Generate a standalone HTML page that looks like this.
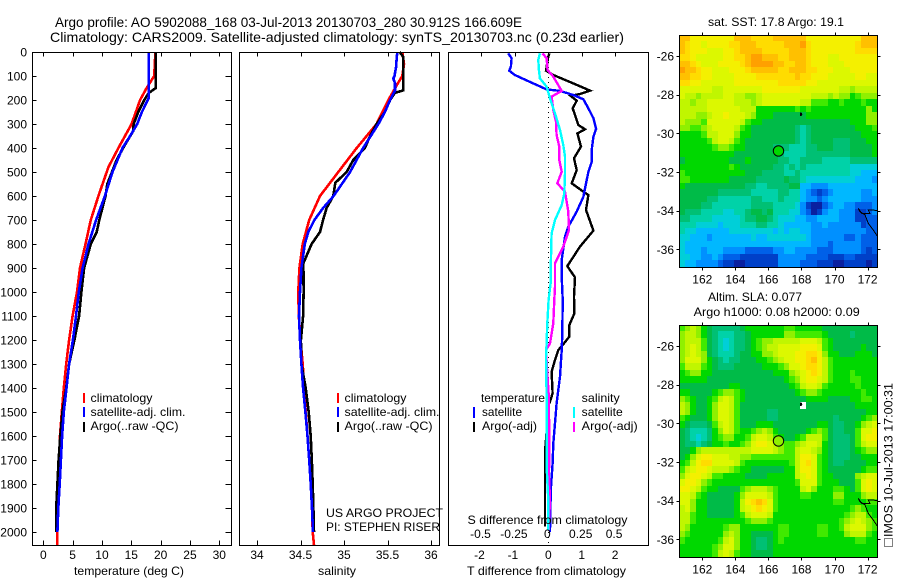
<!DOCTYPE html>
<html>
<head>
<meta charset="utf-8">
<title>Argo profile</title>
<style>
html,body{margin:0;padding:0;background:#fff;}
svg{display:block;}
text{font-family:"Liberation Sans",sans-serif;font-size:12px;fill:#000;}
.t{font-size:14px;}
</style>
</head>
<body>
<svg id="fig" xmlns="http://www.w3.org/2000/svg" width="900" height="580" viewBox="0 0 900 580">
<rect x="0" y="0" width="900" height="580" fill="#fff"/>
<text class="t" x="55" y="27" textLength="467" lengthAdjust="spacingAndGlyphs">Argo profile: AO 5902088_168 03-Jul-2013 20130703_280 30.912S 166.609E</text>
<text class="t" x="50" y="42" textLength="574" lengthAdjust="spacingAndGlyphs">Climatology: CARS2009. Satellite-adjusted climatology: synTS_20130703.nc (0.23d earlier)</text>
<g id="maps"></g>
<g id="panels"></g>

<text x="74" y="575" textLength="110" lengthAdjust="spacingAndGlyphs">temperature (deg C)</text>
<text x="318" y="575" textLength="38" lengthAdjust="spacingAndGlyphs">salinity</text>
<text x="467" y="575" textLength="159" lengthAdjust="spacingAndGlyphs">T difference from climatology</text>
<text x="467.5" y="524" textLength="160" lengthAdjust="spacingAndGlyphs">S difference from climatology</text>

<g>
<rect x="83" y="393" width="2" height="10" fill="#f00"/>
<rect x="83" y="407" width="2" height="10" fill="#00f"/>
<rect x="83" y="422" width="2" height="10" fill="#000"/>
<text x="90.5" y="402" textLength="62" lengthAdjust="spacingAndGlyphs">climatology</text>
<text x="90.5" y="416" textLength="95" lengthAdjust="spacingAndGlyphs">satellite-adj. clim.</text>
<text x="90.5" y="430" textLength="88" lengthAdjust="spacingAndGlyphs">Argo(..raw -QC)</text>
</g>
<g>
<rect x="337" y="393" width="2" height="10" fill="#f00"/>
<rect x="337" y="407" width="2" height="10" fill="#00f"/>
<rect x="337" y="422" width="2" height="10" fill="#000"/>
<text x="344.5" y="402" textLength="62" lengthAdjust="spacingAndGlyphs">climatology</text>
<text x="344.5" y="416" textLength="95" lengthAdjust="spacingAndGlyphs">satellite-adj. clim.</text>
<text x="344.5" y="430" textLength="88" lengthAdjust="spacingAndGlyphs">Argo(..raw -QC)</text>
</g>
<text x="326" y="517" textLength="117" lengthAdjust="spacingAndGlyphs">US ARGO PROJECT</text>
<text x="326" y="531" textLength="114" lengthAdjust="spacingAndGlyphs">PI: STEPHEN RISER</text>

<g>
<rect x="473" y="407" width="2" height="11" fill="#00f"/>
<rect x="473" y="422" width="2" height="10" fill="#000"/>
<rect x="573" y="407" width="2" height="11" fill="#0ff"/>
<rect x="573" y="422" width="2" height="10" fill="#f0f"/>
<text x="481" y="402" textLength="64" lengthAdjust="spacingAndGlyphs">temperature</text>
<text x="482" y="416" textLength="40" lengthAdjust="spacingAndGlyphs">satellite</text>
<text x="482" y="430" textLength="55" lengthAdjust="spacingAndGlyphs">Argo(-adj)</text>
<text x="581.7" y="402" textLength="38" lengthAdjust="spacingAndGlyphs">salinity</text>
<text x="581.7" y="416" textLength="41" lengthAdjust="spacingAndGlyphs">satellite</text>
<text x="581.7" y="430" textLength="56" lengthAdjust="spacingAndGlyphs">Argo(-adj)</text>
</g>

<text x="708" y="26" textLength="136" lengthAdjust="spacingAndGlyphs">sat. SST: 17.8 Argo: 19.1</text>
<text x="708" y="301" textLength="94" lengthAdjust="spacingAndGlyphs">Altim. SLA: 0.077</text>
<text x="693.7" y="316" textLength="166" lengthAdjust="spacingAndGlyphs">Argo h1000: 0.08 h2000: 0.09</text>
<g>
<rect x="884.5" y="538.5" width="8" height="8" fill="none" stroke="#000" stroke-width="1" stroke-dasharray="1 1"/>
<text transform="translate(892.5,537) rotate(-90)" x="0" y="0" textLength="154" lengthAdjust="spacingAndGlyphs">IMOS 10-Jul-2013 17:00:31</text>
</g>
</svg>
<script>
/* ---------- profile data: depth (m) and measured values ---------- */
const tempTicks = [0, 5, 10, 15, 20, 25, 30];
const salTicks = ["34", "34.5", "35", "35.5", "36"];
const diffTTicks = [-2, -1, 0, 1, 2];
const diffSTicks = ["-0.5", "-0.25", "0", "0.25", "0.5"];
const depthTicks = [0, 100, 200, 300, 400, 500, 600, 700, 800, 900, 1000, 1100, 1200, 1300, 1400, 1500, 1600, 1700, 1800, 1900, 2000];
const lonTicks = [162, 164, 166, 168, 170, 172];
const latTicks = [-26, -28, -30, -32, -34, -36];

const climTDepth = [0, 100, 150, 200, 300, 400, 480, 600, 700, 800, 900, 1000, 1100, 1200, 1300, 1400, 1500, 1600, 1700, 1800, 1900, 2000, 2055];
const climTValue = [19.1, 18.9, 17.6, 16.5, 15.05, 12.8, 11.1, 9.4, 8.1, 7.2, 6.25, 5.75, 5.0, 4.4, 3.9, 3.5, 3.15, 2.85, 2.7, 2.5, 2.4, 2.4, 2.35];
const satTDepth = [0, 100, 150, 190, 250, 300, 350, 400, 500, 600, 700, 800, 900, 1000, 1100, 1200, 1300, 1400, 1500, 1600, 1700, 1800, 1900, 2000];
const satTValue = [18.0, 18.0, 18.0, 18.0, 16.8, 16.0, 14.8, 13.5, 11.8, 10.5, 9.0, 7.7, 6.7, 6.05, 5.57, 5.05, 4.4, 3.95, 3.5, 3.2, 3.0, 2.8, 2.55, 2.4];
const argoTDepth = [0, 150, 170, 200, 250, 300, 330, 400, 450, 550, 600, 700, 750, 800, 900, 1000, 1100, 1200, 1300, 1400, 1500, 1600, 1700, 1800, 1900, 2000];
const argoTValue = [19.2, 19.2, 18.0, 17.2, 16.2, 15.4, 15.3, 13.6, 12.5, 10.9, 10.6, 9.55, 9.1, 8.1, 6.95, 6.5, 6.1, 5.3, 4.4, 3.9, 3.25, 2.9, 2.6, 2.4, 2.2, 2.2];

const climSDepth = [0, 50, 100, 130, 200, 300, 400, 500, 600, 700, 800, 900, 1000, 1100, 1200, 1300, 1400, 1500, 1600, 1700, 1800, 1900, 2000, 2055];
const climSValue = [35.67, 35.69, 35.67, 35.62, 35.51, 35.375, 35.146, 34.935, 34.724, 34.6, 34.525, 34.487, 34.475, 34.48, 34.5, 34.525, 34.544, 34.56, 34.58, 34.6, 34.617, 34.632, 34.64, 34.655];
const satSDepth = [0, 30, 60, 100, 110, 130, 160, 200, 250, 300, 400, 500, 600, 650, 700, 750, 800, 900, 1000, 1100, 1200, 1300, 1400, 1500, 1600, 1700, 1800, 1900, 2000];
const satSValue = [35.613, 35.605, 35.6, 35.58, 35.567, 35.586, 35.586, 35.53, 35.47, 35.395, 35.22, 35.07, 34.88, 34.76, 34.66, 34.59, 34.55, 34.51, 34.494, 34.483, 34.494, 34.51, 34.53, 34.556, 34.58, 34.6, 34.617, 34.632, 34.644];
const argoSDepth = [0, 20, 150, 160, 170, 200, 250, 300, 350, 400, 450, 500, 545, 600, 650, 700, 750, 800, 880, 1000, 1100, 1200, 1300, 1400, 1500, 1600, 1700, 1800, 1900, 2000];
const argoSValue = [35.64, 35.68, 35.68, 35.68, 35.586, 35.53, 35.47, 35.375, 35.3, 35.24, 35.107, 35.03, 34.9, 34.877, 34.8, 34.76, 34.724, 34.628, 34.533, 34.536, 34.53, 34.505, 34.51, 34.56, 34.594, 34.617, 34.63, 34.64, 34.648, 34.655];

const diffSatTDepth = [6, 26, 61, 78, 96, 112, 137, 156, 162, 179, 197, 235, 276, 321, 353, 408, 457, 499, 554, 603, 665, 728, 769, 867, 936, 1033, 1172, 1242, 1353, 1464, 1547, 1631, 1714, 1811, 1908, 2000];
const diffSatTValue = [-1.2, -1.1, -1.12, -1.17, -1.0, -0.75, -0.35, -0.05, 0.35, 0.75, 1.05, 1.2, 1.35, 1.43, 1.35, 1.3, 1.3, 1.2, 1.12, 1.05, 0.85, 0.6, 0.5, 0.4, 0.4, 0.43, 0.42, 0.4, 0.35, 0.25, 0.2, 0.15, 0.13, 0.08, 0.06, 0.05];
const diffArgoTDepth = [6, 19, 78, 96, 131, 161, 175, 183, 203, 235, 283, 304, 322, 339, 394, 443, 492, 547, 582, 596, 658, 744, 811, 892, 939, 1019, 1089, 1138, 1186, 1214, 1242, 1283, 1332, 1422, 1457, 1478, 1547, 1665, 1977];
const diffArgoTValue = [0.03, 0, -0.07, 0.15, 0.75, 1.25, 0.95, 0.67, 0.85, 0.73, 0.85, 0.9, 1.1, 0.87, 0.98, 0.77, 0.85, 0.7, 1.05, 1.2, 1.13, 1.35, 0.95, 0.57, 0.8, 0.77, 0.78, 0.63, 0.63, 0.47, 0.3, 0.2, 0.1, 0.13, 0.05, -0.03, -0.03, -0.1, -0.1];
const diffSatSDepth = [6, 33, 75, 110, 144, 193, 256, 325, 388, 436, 506, 589, 638, 700, 756, 853, 964, 1033, 1130, 1214, 1269, 1436, 1589, 1728, 1867, 1992];
const diffSatSValue = [-0.0625, -0.075, -0.07, -0.0625, -0.0125, 0.0125, 0.05, 0.0875, 0.1125, 0.125, 0.125, 0.12, 0.1, 0.05, 0.025, 0.02, 0.0175, 0.0025, -0.0075, -0.0125, -0.0175, -0.0125, -0.0125, -0.0125, 0, 0];
const diffArgoSDepth = [6, 26, 75, 103, 162, 186, 242, 290, 346, 394, 450, 499, 547, 582, 665, 742, 811, 881, 978, 1033, 1130, 1214, 1242, 1339, 1422, 1589, 1769, 1867, 1992];
const diffArgoSValue = [-0.0425, -0.0125, -0.005, 0.0375, 0.1, 0.025, 0.0375, 0.0575, 0.0625, 0.0825, 0.0825, 0.1, 0.0675, 0.125, 0.15, 0.155, 0.1125, 0.05, 0.05, 0.045, 0.0375, 0.0125, -0.0175, -0.0075, 0.0025, 0.0075, 0.005, 0.0125, 0.0025];

const coastLon = [172.58, 172.34, 172.04, 172.14, 171.64, 171.44, 171.54, 171.84, 172.04, 172.34, 172.58];
const coastLat = [-34.0, -33.97, -33.97, -34.14, -34.14, -33.88, -34.05, -34.22, -34.66, -35.0, -35.31];
const islandLon = [167.95, 167.98, 168.02];
const islandLat = [-29.1, -29.0, -29.05];
const floatLon = 166.609;
const floatLat = -30.912;
const floatSstLevel = 9;
const floatSlaLevel = 11;
const mapFirstLon = 160.6;
const mapFirstLat = -24.9;

/* colour scale level -> colour */
const palette = ["#0a20a0","#0040c8","#0060e8","#0090ff","#00b8ff","#00cfd8","#00d2a8","#00c074","#00bb48","#00d800","#40ea00","#90f000","#c0f600","#dcf800","#f4f000","#ffdc00","#ffc000","#ffa000"];

/* SST map colour levels, north to south */
const sstLevels = [
[16,16,14,14,14,14,14,14,14,14,16,16,16,15,15,15,15,16,16,16,16,16,16,14,14,14,14,14,14,14,14,14,14,16,16,16],
[16,15,14,14,13,14,14,14,14,15,15,16,16,16,15,15,15,15,15,16,16,16,17,15,14,14,14,14,14,14,14,14,15,16,16,16],
[16,15,14,14,14,13,13,13,14,14,15,16,16,16,16,15,15,15,15,15,16,16,16,15,14,14,14,14,14,14,14,14,15,15,15,15],
[15,15,14,13,13,13,13,13,14,14,15,15,16,17,17,16,16,16,15,15,16,16,16,15,14,14,14,13,13,14,14,14,14,14,14,14],
[16,16,15,14,13,13,13,14,14,14,14,15,16,17,17,17,17,16,16,15,15,16,16,15,14,14,14,13,13,13,14,14,14,14,14,14],
[17,16,16,15,14,14,13,13,13,14,14,14,15,16,16,16,16,16,15,15,16,16,16,15,15,14,14,14,13,13,13,14,14,14,14,14],
[16,16,15,15,14,14,13,13,13,13,14,14,14,14,15,15,15,15,15,15,15,16,15,15,14,14,14,13,13,13,13,13,14,14,13,13],
[15,15,14,14,13,13,13,13,13,13,14,14,14,14,14,14,14,14,15,15,15,15,15,14,14,13,13,13,13,13,13,13,13,13,13,13],
[13,13,13,13,13,13,12,12,13,13,13,13,13,13,13,14,14,14,14,14,14,14,13,13,13,13,13,13,13,12,12,11,12,12,12,12],
[13,12,12,11,12,12,12,12,13,13,12,12,11,11,12,13,13,13,13,13,13,13,13,13,12,12,12,11,12,11,11,9,10,11,11,11],
[12,12,11,12,12,13,13,13,13,13,12,12,12,11,12,13,13,13,13,13,13,13,12,12,10,10,10,9,9,10,9,9,9,10,9,9],
[12,12,12,12,12,13,13,13,13,13,13,12,12,12,9,9,9,9,9,9,9,10,9,10,9,9,9,9,9,9,9,9,9,9,11,9],
[12,12,12,11,11,12,13,13,14,13,13,13,12,11,9,9,9,8,8,8,8,8,8,9,9,9,9,9,9,9,9,9,9,9,11,11],
[12,11,11,11,10,13,13,13,13,13,13,12,10,9,9,8,8,8,8,8,8,8,8,8,8,8,8,8,8,8,8,9,9,9,11,11],
[11,11,10,10,11,12,13,13,13,13,12,10,9,8,8,8,8,8,8,8,8,7,6,7,8,8,8,8,8,8,8,8,9,9,9,10],
[9,9,9,9,10,12,12,13,13,13,11,9,9,8,8,8,8,8,8,8,8,7,6,7,8,8,8,8,8,8,8,8,8,9,9,9],
[9,9,9,9,9,10,12,13,13,12,10,9,8,8,8,8,8,8,8,8,8,7,6,7,8,8,8,8,7,7,7,8,8,8,9,9],
[9,9,9,9,9,9,10,11,11,10,9,9,8,8,8,8,8,7,7,7,6,6,6,7,7,8,8,8,7,7,7,8,8,8,8,9],
[9,9,9,9,9,9,9,9,9,9,8,8,8,8,8,8,8,8,7,6,6,6,6,7,7,7,7,7,7,7,7,8,8,8,8,9],
[8,9,9,9,9,9,9,9,9,8,8,8,9,8,8,8,8,8,7,7,6,6,7,7,7,7,6,6,6,6,6,7,7,7,7,7],
[9,9,9,9,9,9,9,9,9,10,9,8,8,8,8,8,8,7,7,6,7,6,7,6,6,6,6,6,6,6,6,5,5,5,5,5],
[10,9,9,9,9,9,9,9,9,9,9,9,8,8,8,7,7,7,7,6,6,7,6,6,6,6,6,6,6,6,6,5,5,4,4,4],
[10,10,9,9,9,9,9,9,9,8,8,8,8,8,7,7,7,7,7,8,7,7,6,5,5,5,5,5,5,5,5,5,4,4,4,3],
[9,8,8,8,8,8,8,8,8,8,8,8,7,7,6,6,7,7,7,7,8,8,4,4,3,3,3,4,4,4,4,4,4,4,4,4],
[8,8,8,8,8,8,8,7,7,7,7,7,7,6,6,6,6,6,7,7,6,6,4,3,2,1,2,3,4,4,4,4,4,3,3,4],
[8,8,8,8,8,7,7,6,6,6,6,6,6,7,7,6,6,6,7,6,6,6,4,3,3,2,3,4,4,4,4,4,4,3,3,3],
[8,8,8,8,7,7,6,6,6,6,6,6,6,7,7,7,7,6,6,6,6,5,3,1,0,0,2,3,4,4,3,3,2,2,2,3],
[8,7,7,7,6,6,6,6,5,5,6,6,7,8,8,7,8,6,6,6,5,5,3,2,0,1,3,4,4,3,3,3,1,1,2,3],
[7,7,6,6,6,6,5,5,5,5,5,6,7,7,8,8,7,6,5,5,5,4,4,3,3,4,4,4,4,3,3,3,1,1,2,2],
[6,6,6,5,5,5,5,4,5,5,5,6,6,6,7,7,6,6,5,4,4,4,4,4,3,3,4,3,3,3,3,3,3,1,2,2],
[6,5,5,4,4,4,4,4,4,5,5,5,5,5,5,5,5,4,5,4,5,5,4,4,3,3,3,3,3,3,3,3,3,3,2,2],
[5,5,4,4,4,3,4,4,4,4,4,4,4,5,4,4,5,5,5,5,5,5,5,4,3,3,3,3,3,3,2,2,3,2,2,2],
[5,4,4,4,4,4,4,4,4,4,4,4,4,4,4,4,4,4,4,4,4,4,4,4,3,3,3,2,3,3,3,3,3,2,2,2],
[5,4,4,4,3,4,4,4,3,3,3,3,2,2,2,2,2,3,3,4,4,3,3,3,3,2,2,2,3,3,3,3,3,2,1,2],
[5,5,4,4,3,3,4,3,2,2,2,1,1,1,1,1,1,1,3,3,3,3,3,2,2,2,2,1,1,1,2,2,1,1,1,1],
[5,4,4,3,3,3,3,2,1,1,0,0,1,1,1,1,1,1,3,3,3,3,2,2,2,1,1,1,0,0,1,1,1,1,0,1]
];

/* SLA map colour levels, north to south; -1 means no data */
const slaLevels = [
[10,11,12,11,9,8,7,7,7,7,7,8,9,9,9,9,9,9,9,10,10,9,9,9,9,9,8,8,8,8,8,8,8,8,8,8],
[11,12,12,11,9,8,7,6,6,6,7,7,8,9,9,9,9,9,9,11,11,10,10,10,10,10,9,8,8,8,8,7,8,8,8,8],
[11,12,12,12,10,8,7,6,5,6,7,7,8,9,10,11,11,12,12,12,12,12,13,13,13,12,10,9,8,8,8,8,8,8,8,8],
[11,12,13,12,10,8,7,6,5,6,7,7,8,9,10,11,12,12,13,13,13,13,14,14,14,13,10,9,8,8,8,8,8,9,8,8],
[11,12,13,12,11,8,7,6,6,6,7,8,8,9,9,11,11,12,13,13,13,14,14,15,15,14,11,9,9,8,8,8,9,9,9,8],
[11,13,13,13,11,9,8,7,6,7,7,8,8,8,9,9,10,11,12,13,13,14,14,15,16,14,12,10,9,9,9,9,9,9,9,9],
[10,12,12,12,10,9,8,7,7,7,8,8,8,8,8,9,9,9,10,11,13,13,14,15,15,14,12,10,9,9,9,9,9,9,9,9],
[9,10,11,11,9,9,8,8,8,8,8,8,8,8,8,8,8,9,9,9,11,12,13,14,15,14,12,10,9,9,9,10,9,9,9,9],
[9,9,9,9,9,8,8,8,8,8,8,8,8,8,8,8,8,8,8,9,10,11,13,14,14,13,12,10,9,9,9,10,10,9,9,9],
[8,8,8,8,8,8,8,8,8,9,9,8,8,8,8,8,8,8,8,8,9,10,12,13,13,12,10,9,9,9,9,9,10,9,9,9],
[9,9,8,8,8,8,9,10,11,11,10,9,8,8,8,8,8,8,8,8,8,9,10,11,11,10,9,9,9,9,9,9,9,10,9,9],
[11,10,9,8,8,9,10,12,13,12,10,9,8,8,8,8,8,8,8,8,8,8,8,9,9,9,9,8,8,8,8,9,9,10,10,9],
[12,11,9,8,8,9,11,13,13,12,10,8,8,8,8,8,8,8,8,8,8,8,-1,8,8,8,8,8,8,8,8,8,9,9,9,9],
[12,11,9,8,8,9,11,13,13,12,10,8,8,8,8,8,7,7,8,8,8,8,8,8,8,8,8,8,8,8,8,8,8,8,9,9],
[10,9,8,8,8,9,11,13,13,12,10,8,8,8,8,8,7,7,8,8,8,8,8,8,8,8,8,8,7,8,8,8,8,9,10,11],
[9,8,7,7,7,8,10,12,13,12,10,8,8,8,9,9,9,8,8,8,8,8,8,8,8,9,9,8,7,7,8,8,9,11,12,13],
[8,7,6,6,6,7,9,11,13,12,10,9,9,10,11,12,11,9,8,8,8,8,8,9,10,11,10,8,7,7,8,8,10,13,13,14],
[8,7,6,5,6,7,9,10,11,11,9,9,10,12,13,13,12,10,9,8,8,9,10,12,12,12,10,8,7,7,7,8,10,13,14,14],
[8,7,7,6,7,8,9,9,10,9,9,10,11,13,14,14,13,12,11,10,10,11,12,13,13,12,9,8,7,7,7,8,10,12,13,13],
[8,8,9,11,12,12,12,12,12,12,12,12,12,13,13,13,13,12,11,10,10,12,13,13,12,11,9,8,7,7,7,8,9,10,11,11],
[8,9,11,13,14,14,13,13,13,12,12,11,11,10,10,10,10,10,10,10,10,12,14,14,13,10,9,8,7,7,7,8,8,9,9,9],
[9,10,12,14,15,15,13,13,13,13,12,10,9,9,9,9,9,9,9,9,10,12,14,15,13,10,9,8,7,7,8,8,8,8,9,9],
[10,12,13,14,14,13,12,12,12,11,10,9,9,8,8,8,8,8,8,9,9,12,14,14,13,10,9,8,8,8,8,8,8,9,10,10],
[11,13,14,14,13,12,10,10,9,9,9,9,8,8,8,8,9,9,9,9,9,12,13,14,13,10,9,9,8,8,8,8,11,12,13,13],
[13,14,14,13,11,10,9,9,9,9,9,9,9,9,9,9,9,9,9,9,9,10,13,13,13,10,9,9,9,8,8,8,10,13,14,13],
[14,14,13,12,10,9,9,8,8,8,8,10,11,12,12,12,11,10,9,9,9,9,12,13,11,9,9,9,10,10,9,8,10,13,14,13],
[13,13,12,10,9,8,8,8,8,8,9,11,13,13,13,13,12,10,9,9,9,9,10,10,9,9,9,9,11,11,9,9,9,11,12,12],
[13,13,11,9,9,8,8,8,8,8,9,12,14,15,16,15,13,10,9,9,9,9,9,9,9,9,9,9,10,10,9,9,9,9,10,10],
[12,13,11,9,9,8,8,8,8,8,9,12,13,14,15,14,13,10,9,9,9,9,9,9,9,9,9,9,9,9,9,10,11,10,9,9],
[12,12,10,9,9,8,8,8,8,8,9,10,12,13,13,13,12,9,9,9,9,9,9,9,9,9,9,9,9,9,10,11,12,12,10,9],
[12,12,10,9,9,9,9,9,9,9,9,9,10,11,11,11,10,9,9,9,9,9,9,9,9,9,9,9,9,10,11,12,13,12,11,10],
[12,11,9,9,9,9,9,9,10,11,11,9,9,9,9,9,9,9,10,10,9,9,9,9,9,10,10,9,9,10,12,13,13,13,11,10],
[11,10,9,9,9,9,9,9,11,12,11,9,9,8,8,8,8,9,10,10,9,9,9,9,9,10,10,9,9,9,11,12,12,12,10,9],
[10,9,9,9,9,9,9,10,12,13,11,9,9,8,7,7,8,9,10,9,9,9,9,9,9,9,9,9,9,9,9,9,10,10,9,9],
[9,9,9,9,9,9,10,11,13,13,11,9,9,8,7,7,8,9,9,9,9,9,9,9,9,9,9,9,9,9,9,9,9,9,9,9],
[9,9,9,9,9,9,10,12,13,12,10,9,9,8,8,8,8,9,9,9,9,9,9,9,9,9,9,9,9,9,9,9,9,9,9,9]
];

/* ---------- axis functions ---------- */
const NS = "http://www.w3.org/2000/svg";
const yDepth = function (d) { return 52 + d * 0.24; };
const xTemp = function (v) { return 43.3 + v * 5.867; };
const xSal = function (v) { return 257 + (v - 34) * 87; };
const xDiffT = function (v) { return 548.3 + v * 33.4; };
const xDiffS = function (v) { return 548.3 + v * 133.6; };
const xLon = function (v) { return 702.3 + (v - 162) * 16.53; };
const yLat1 = function (v) { return 56 - (v + 26) * 19.33; };
const yLat2 = function (v) { return 346 - (v + 26) * 19.33; };

function make(tag, parent, attrs) {
  const el = document.createElementNS(NS, tag);
  for (const k in attrs) el.setAttribute(k, attrs[k]);
  parent.appendChild(el);
  return el;
}

function seriesLine(parent, depths, values, xFn, colour, width, name) {
  const pts = depths.map(function (d, i) { return xFn(values[i]).toFixed(1) + "," + yDepth(d).toFixed(1); }).join(" ");
  const el = make("polyline", parent, { points: pts, fill: "none", stroke: colour, "stroke-width": width, "shape-rendering": "crispEdges" });
  
  
  return el;
}

function panelFrame(parent, x0, x1, name) {
  const el = make("rect", parent, { x: x0 + 0.5, y: 52.5, width: x1 - x0, height: 493, fill: "none", stroke: "#000", "stroke-width": 1, "shape-rendering": "crispEdges" });
  
  
}

function tickLine(parent, x1, y1, x2, y2) {
  const el = make("line", parent, { x1: Math.round(x1) + 0.5, y1: Math.round(y1) + 0.5, x2: Math.round(x2) + 0.5, y2: Math.round(y2) + 0.5, stroke: "#000", "stroke-width": 1, "shape-rendering": "crispEdges" });
  
  
}

function tickLabel(parent, x, y, str, anchor, name) {
  const el = make("text", parent, { x: x, y: y, "text-anchor": anchor });
  el.textContent = str;
  
  
}

/* ---------- profile panels ---------- */
const panels = document.getElementById("panels");
const tempG = make("g", panels, {});


const salG = make("g", panels, {});


const diffG = make("g", panels, {});



seriesLine(tempG, climTDepth, climTValue, xTemp, "#f00", 2.6, "temperature-climatology-line");
seriesLine(tempG, argoTDepth, argoTValue, xTemp, "#000", 2.6, "temperature-argo-line");
seriesLine(tempG, satTDepth, satTValue, xTemp, "#00f", 2.6, "temperature-satellite-line");
panelFrame(tempG, 32, 231, "temperature-plot-frame");
depthTicks.forEach(function (d) {
  tickLine(tempG, 32, yDepth(d), 36, yDepth(d));
  tickLine(tempG, 225, yDepth(d), 231, yDepth(d));
  tickLabel(tempG, 27, yDepth(d) + 4.5, String(d), "end", "depth-tick-label");
});
tempTicks.forEach(function (v) {
  tickLine(tempG, xTemp(v), 52, xTemp(v), 56);
  tickLine(tempG, xTemp(v), 540, xTemp(v), 545);
  tickLabel(tempG, xTemp(v), 559, String(v), "middle", "temperature-tick-label");
});

seriesLine(salG, climSDepth, climSValue, xSal, "#f00", 2.6, "salinity-climatology-line");
seriesLine(salG, argoSDepth, argoSValue, xSal, "#000", 2.6, "salinity-argo-line");
seriesLine(salG, satSDepth, satSValue, xSal, "#00f", 2.6, "salinity-satellite-line");
panelFrame(salG, 239, 439, "salinity-plot-frame");
salTicks.forEach(function (s) {
  const v = parseFloat(s);
  tickLine(salG, xSal(v), 52, xSal(v), 56);
  tickLine(salG, xSal(v), 540, xSal(v), 545);
  tickLabel(salG, xSal(v), 559, s, "middle", "salinity-tick-label");
});

const zero = make("line", diffG, { x1: xDiffT(0), y1: 52, x2: xDiffT(0), y2: 545, stroke: "#000", "stroke-width": 1, "stroke-dasharray": "1 4", "shape-rendering": "crispEdges" });


seriesLine(diffG, diffArgoTDepth, diffArgoTValue, xDiffT, "#000", 2.4, "t-difference-argo-line");
seriesLine(diffG, diffSatTDepth, diffSatTValue, xDiffT, "#00f", 2.4, "t-difference-satellite-line");
seriesLine(diffG, diffArgoSDepth, diffArgoSValue, xDiffS, "#f0f", 2.4, "s-difference-argo-line");
seriesLine(diffG, diffSatSDepth, diffSatSValue, xDiffS, "#0ff", 2.4, "s-difference-satellite-line");
panelFrame(diffG, 448, 648, "difference-plot-frame");
diffTTicks.forEach(function (v) {
  tickLine(diffG, xDiffT(v), 52, xDiffT(v), 56);
  tickLabel(diffG, xDiffT(v) - (v < 0 ? 2 : 0), 559, String(v), "middle", "t-difference-tick-label");
});
diffSTicks.forEach(function (s) {
  tickLabel(diffG, xDiffS(parseFloat(s)) - 1, 538, s, "middle", "s-difference-tick-label");
});

/* ---------- maps ---------- */
const maps = document.getElementById("maps");

function drawMap(levels, yLat, floatLevel, prefix) {
  const g = make("g", maps, {});
  
  
  const xL = Math.round(xLon(mapFirstLon));
  const xR = Math.floor(xLon(mapFirstLon + 12));
  const yT = Math.round(yLat(mapFirstLat));
  const yB = Math.round(yLat(mapFirstLat - 12));
  levels.forEach(function (row, r) {
    row.forEach(function (level, c) {
      const x0 = Math.round(xLon(mapFirstLon + c / 3));
      const x1 = Math.min(xR, Math.round(xLon(mapFirstLon + (c + 1) / 3)));
      const y0 = Math.round(yLat(mapFirstLat - r / 3));
      const y1 = Math.round(yLat(mapFirstLat - (r + 1) / 3));
      const cell = make("rect", g, { x: x0, y: y0, width: x1 - x0, height: y1 - y0, fill: level < 0 ? "#fff" : palette[Math.max(0, Math.min(palette.length - 1, Math.round(level)))], "shape-rendering": "crispEdges" });
      
      
    });
  });
  const coast = make("polyline", g, { points: coastLon.map(function (v, i) { return xLon(v).toFixed(1) + "," + yLat(coastLat[i]).toFixed(1); }).join(" "), fill: "none", stroke: "#000", "stroke-width": 1, "shape-rendering": "crispEdges" });
  
  
  const island = make("polyline", g, { points: islandLon.map(function (v, i) { return xLon(v).toFixed(1) + "," + yLat(islandLat[i]).toFixed(1); }).join(" "), fill: "none", stroke: "#000", "stroke-width": 2, "shape-rendering": "crispEdges" });
  
  
  const marker = make("circle", g, { cx: xLon(floatLon), cy: yLat(floatLat), r: 5.2, fill: palette[floatLevel], stroke: "#000", "stroke-width": 1 });
  
  
  const frame = make("rect", g, { x: xL + 0.5, y: yT + 0.5, width: xR - xL, height: yB - yT, fill: "none", stroke: "#000", "stroke-width": 1, "shape-rendering": "crispEdges" });
  
  
  lonTicks.forEach(function (v) {
    tickLine(g, xLon(v), yT - 3, xLon(v), yT);
    tickLine(g, xLon(v), yB, xLon(v), yB + 3);
    tickLabel(g, xLon(v), yB + 16.5, String(v), "middle", "longitude-tick-label");
  });
  latTicks.forEach(function (v) {
    tickLine(g, xL - 3, yLat(v), xL, yLat(v));
    tickLine(g, xR, yLat(v), xR + 3, yLat(v));
    tickLabel(g, xL - 5, yLat(v) + 4.5, String(v), "end", "latitude-tick-label");
  });
}
drawMap(sstLevels, yLat1, floatSstLevel, "sst");
drawMap(slaLevels, yLat2, floatSlaLevel, "sla");
</script>
</body>
</html>
